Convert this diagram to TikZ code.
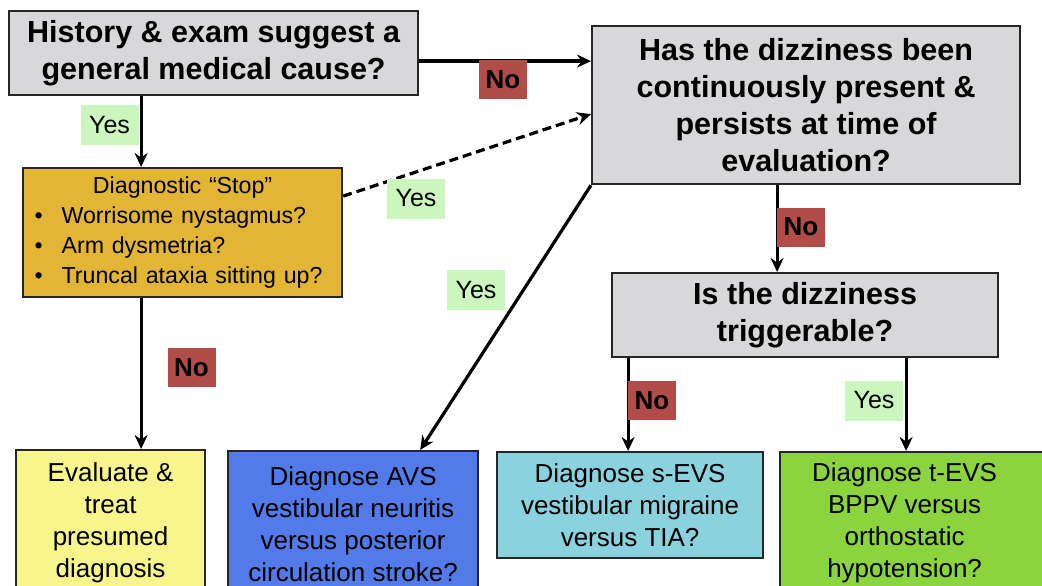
\documentclass[tikz,border=0pt]{standalone}
\usepackage{fontspec}
\setmainfont{Liberation Sans}
\usetikzlibrary{arrows.meta}

\definecolor{qgray}{RGB}{216,216,219}
\definecolor{stopgold}{RGB}{226,182,52}
\definecolor{evalyellow}{RGB}{247,245,140}
\definecolor{avsblue}{RGB}{82,122,232}
\definecolor{sevscyan}{RGB}{138,211,222}
\definecolor{tevsgreen}{RGB}{140,212,62}
\definecolor{nored}{RGB}{178,76,72}
\definecolor{yesgreen}{RGB}{203,246,190}

\tikzset{every picture/.style={line width=2.2pt}}
\tikzset{
  qbox/.style={draw=black!85, fill=qgray, anchor=north west, inner sep=2pt, align=center,
    font=\fontsize{30.5}{37}\selectfont\bfseries},
  stopbox/.style={draw=black!85, fill=stopgold, anchor=north west, inner xsep=11.5pt, inner ysep=4pt,
    text width=296pt, align=left, font=\fontsize{23.2}{30}\selectfont},
  dxbox/.style={draw=black!85, anchor=north west, inner sep=2pt,
    font=\fontsize{26}{32}\selectfont},
  nolab/.style={fill=nored, minimum width=48pt, minimum height=39pt, inner sep=0pt,
    font=\fontsize{26}{26}\selectfont\bfseries},
  yeslab/.style={fill=yesgreen, minimum width=58pt, minimum height=40pt, inner sep=0pt,
    font=\fontsize{25}{25}\selectfont},
  arr/.style={-{Stealth[length=14pt,width=13pt]}, line width=3.2pt},
}
\newcommand{\bul}{\makebox[27pt][l]{\textbullet}}

\begin{document}
\begin{tikzpicture}[x=1pt,y=1pt,yscale=-1,xscale=1]
\useasboundingbox (0,0) rectangle (1042,586);
\clip (0,0) rectangle (1042,586);

% question boxes
\node[qbox, minimum width=409pt, minimum height=84pt] (q1) at (8,10) {History \& exam suggest a\\general medical cause?};
\node[qbox, minimum width=428pt, minimum height=158pt] (q2) at (591,25) {Has the dizziness been\\continuously present \&\\persists at time of\\evaluation?};
\node[qbox, minimum width=386pt, minimum height=84pt] (q3) at (611,272) {Is the dizziness\\triggerable?};

% diagnostic stop
\node[stopbox, minimum height=129pt] (stop) at (22,167) {\makebox[\linewidth]{Diagnostic “Stop”}\\
\bul Worrisome nystagmus?\\
\bul Arm dysmetria?\\
\bul Truncal ataxia sitting up?};

% outcome boxes (run past the bottom edge)
\node[dxbox, fill=evalyellow, align=center, minimum width=189pt, minimum height=146pt] (eval) at (15,449) {Evaluate \&\\treat\\presumed\\diagnosis};
\node[dxbox, fill=avsblue, align=center, minimum width=250pt, minimum height=146pt] (avs) at (227,450) {Diagnose AVS\\vestibular neuritis\\versus posterior\\circulation stroke?};
\node[dxbox, fill=sevscyan, align=center, minimum width=266pt, minimum height=106pt] (sevs) at (496,451) {Diagnose s-EVS\\vestibular migraine\\versus TIA?};
\node[dxbox, fill=tevsgreen, minimum width=280pt, minimum height=142pt] (tevs) at (779,451) {\begin{tabular}{@{}c@{}}Diagnose t-EVS\\BPPV versus\\orthostatic\\hypotension?\end{tabular}\kern31pt};

% connectors
\draw[arr] ([yshift=8pt]q1.east) -- ([yshift=8pt]q1.east -| q2.west);
\draw[arr] ([xshift=-72.5pt]q1.south) -- ([xshift=-72.5pt]q1.south |- stop.north);
\draw[arr, dash pattern=on 9pt off 5pt, line width=3.2pt] ([yshift=-36.5pt]stop.east) -- ([yshift=9pt]q2.west);
\draw[arr] (q2.south west) -- ([xshift=-59pt]avs.north east);
\draw[arr] ([xshift=-29pt]q2.south) -- ([xshift=-29pt]q2.south |- q3.north);
\draw[arr] ([xshift=-41.5pt]stop.south) -- ([xshift=-41.5pt]stop.south |- eval.north);
\draw[arr] ([xshift=-177pt]q3.south) -- ([xshift=-177pt]q3.south |- sevs.north);
\draw[arr] ([xshift=101pt]q3.south) -- ([xshift=101pt]q3.south |- tevs.north);

% yes / no tags
\node[nolab] (noA) at (503,79.5) {No};
\node[yeslab] (yesA) at (109.5,125) {Yes};
\node[yeslab] (yesB) at (416,198.5) {Yes};
\node[yeslab] (yesC) at (476,290) {Yes};
\node[nolab] (noB) at (801,227) {No};
\node[nolab] (noC) at (191.5,367.5) {No};
\node[nolab] (noD) at (652,400.5) {No};
\node[yeslab] (yesD) at (874,400.5) {Yes};
\end{tikzpicture}
\end{document}
